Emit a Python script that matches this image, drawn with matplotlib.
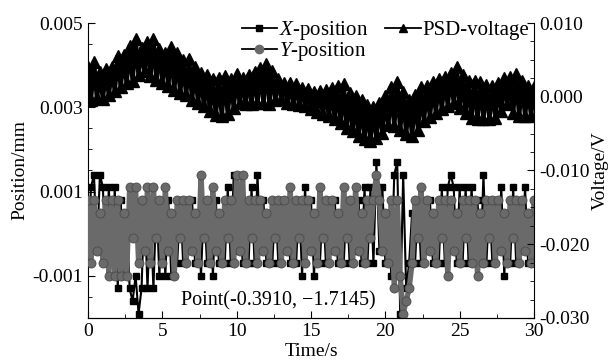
import numpy as np
import matplotlib.pyplot as plt
from matplotlib.lines import Line2D
from matplotlib.ticker import MultipleLocator, FormatStrFormatter

plt.rcParams['font.family'] = ['Liberation Serif', 'DejaVu Serif']
plt.rcParams['mathtext.fontset'] = 'custom'
plt.rcParams['mathtext.rm'] = 'Liberation Serif'
plt.rcParams['mathtext.it'] = 'Liberation Serif:italic'
plt.rcParams['axes.unicode_minus'] = False
plt.rcParams['font.size'] = 14

# samples every 0.2 s
time_s = np.arange(151) * 0.2

# X-position, units of 1e-4 mm (quantised levels)
x_pos_e4 = [
    -7, 11, 14, -4, 14, 11, -7, 11, -7, 11,
    -13, 8, -10, 5, -13, -16, -10, -19, -13, 8,
    -13, 5, -13, 8, -10, 8, -10, 8, -10, 5,
    -7, 8, -7, 8, -4, 8, -7, 5, -10, 8,
    -7, 8, -10, 8, -7, 5, -7, 11, -7, 14,
    -4, 8, -7, 5, -7, 11, -7, 14, -4, 8,
    -7, 5, -7, 8, -7, 8, -4, 8, -7, 5,
    -7, 8, -10, 11, -4, 8, -10, 5, -7, 8,
    -7, 8, -4, 8, -7, 5, -7, 8, -7, 8,
    -4, 8, -7, 11, -7, 11, -7, 17, -4, 11,
    -7, 5, -10, 14, 17, -19, 14, -13, -7, 5,
    -7, 8, -7, 8, -4, 8, -7, 5, -7, 11,
    -7, 11, 14, 11, -7, 11, -7, 11, -7, 11,
    -4, 8, -7, 14, -7, 8, -7, 8, -4, 11,
    -10, 5, -7, 11, -7, 8, -4, 11, -7, 5,
    -7,
]

# Y-position, units of 1e-4 mm
y_pos_e4 = [
    8, -7, 8, -4, 5, -7, 8, -10, 8, -10,
    8, -10, 5, -10, 11, -1, 11, -7, 8, -4,
    11, -7, 11, -1, 8, -7, 11, -4, 5, -10,
    8, -1, 8, -7, 8, -4, 5, -7, 14, -1,
    8, -7, 11, -4, 5, -7, 8, -1, 8, -7,
    14, -4, 14, -7, 8, -1, 8, -7, 8, -4,
    5, -7, 8, -1, 8, -7, 8, -4, 11, -7,
    8, -1, 8, -7, 8, -4, 5, -7, 11, -1,
    8, -7, 8, -4, 5, -7, 11, -1, 8, -7,
    11, -4, 5, -7, 8, -1, 8, 14, 8, -4,
    5, -7, 8, -13, 8, -10, -19, -16, -13, -7,
    8, -1, 11, -7, 8, -4, 5, -7, 8, -1,
    8, -10, 8, -4, 5, -7, 8, -1, 8, -7,
    8, -10, 5, -7, 8, -1, 8, -7, 8, -4,
    5, -7, 8, -1, 8, -7, 8, -4, 5, -7,
    8,
]

# PSD voltage, mV
psd_mv = [
    4.0, -0.4, 4.7, -0.2, 3.3, -0.3, 3.8, 0.2, 4.0, 0.8,
    5.5, 1.3, 5.6, 1.8, 6.9, 2.2, 7.8, 2.9, 6.6, 3.5,
    7.4, 2.8, 7.8, 2.3, 6.5, 1.9, 6.0, 1.4, 6.7, 0.9,
    5.9, 0.5, 5.0, 0.2, 5.1, -0.4, 4.0, -0.8, 3.2, -1.3,
    3.0, -1.9, 2.4, -2.5, 2.6, -2.6, 2.8, -2.3, 2.4, -1.5,
    3.1, -0.9, 2.5, -1.0, 2.9, -1.0, 3.3, -0.8, 3.9, -0.9,
    4.4, -1.0, 3.5, -0.4, 2.4, -0.3, 1.9, -0.8, 1.8, -1.0,
    1.7, -1.1, 1.2, -1.3, 1.1, -1.7, 0.6, -2.1, 0.8, -2.4,
    0.9, -2.6, 1.2, -3.0, 1.5, -3.5, 1.7, -4.2, 0.5, -4.7,
    0.1, -5.3, -0.4, -5.7, -1.1, -6.0, -1.4, -5.6, -0.8, -4.9,
    0.1, -3.8, 1.3, -4.0, 2.0, -4.5, 0.7, -5.0, -0.5, -5.3,
    0.3, -4.5, 1.3, -3.3, 1.5, -2.8, 2.0, -2.2, 2.4, -1.7,
    2.7, -1.2, 3.2, -0.8, 4.0, -1.5, 2.9, -2.2, 2.1, -2.9,
    2.2, -3.0, 2.0, -3.0, 1.6, -3.0, 1.4, -2.9, 1.8, -2.0,
    2.5, -1.0, 2.7, -2.2, 3.1, -2.6, 2.1, -2.6, 1.5, -2.6,
    1.3,
]

x_pos = np.array(x_pos_e4) * 1e-4
y_pos = np.array(y_pos_e4) * 1e-4
psd = np.array(psd_mv) / 1000

gray = '#6a6a6a'

fig = plt.figure(figsize=(6.1, 3.6), dpi=100)
ax = fig.add_axes([0.1443, 0.1167, 0.7311, 0.8194])

# dense sampling in the original makes solid bands, so thick lines here
ax.plot(time_s, x_pos, color='black', lw=1.5, marker='s', ms=5,
        mfc='black', mec='black', solid_joinstyle='round', zorder=2)
ax.plot(time_s, y_pos, color=gray, lw=3.8, marker='o', ms=6.5,
        mfc=gray, mec='#4a4a4a', mew=0.6, solid_joinstyle='round', zorder=3)

ax.set_xlim(0, 30)
ax.set_ylim(-0.002, 0.005)
ax.set_xticks([0, 5, 10, 15, 20, 25, 30])
ax.xaxis.set_minor_locator(MultipleLocator(2.5))
ax.set_yticks([-0.001, 0.001, 0.003, 0.005])
ax.yaxis.set_minor_locator(MultipleLocator(0.0005))
ax.yaxis.set_major_formatter(FormatStrFormatter('%.3f'))
ax.tick_params(which='both', direction='in', top=False, right=False)
ax.tick_params(which='major', length=5)
ax.tick_params(which='minor', length=3)
ax.spines['top'].set_visible(False)
ax.spines['right'].set_visible(False)
ax.set_xlabel('Time/s', labelpad=2)
ax.set_ylabel('Position/mm', labelpad=3)

ax2 = ax.twinx()
ax2.plot(time_s, psd, color='black', lw=3.2, marker='^', ms=8,
         mfc='black', mec='black', solid_joinstyle='round')
ax2.set_ylim(-0.030, 0.010)
ax2.set_yticks([-0.03, -0.02, -0.01, 0.0, 0.01])
ax2.yaxis.set_minor_locator(MultipleLocator(0.0025))
ax2.yaxis.set_major_formatter(FormatStrFormatter('%.3f'))
ax2.tick_params(which='both', direction='in')
ax2.tick_params(which='major', length=5)
ax2.tick_params(which='minor', length=3)
ax2.spines['top'].set_visible(False)
ax2.spines['left'].set_visible(False)
ax2.set_ylabel('Voltage/V', labelpad=2)

ax.text(12.8, -0.0016, 'Point(-0.3910, \u22121.7145)', ha='center',
        va='center', fontsize=14.5)

handles = [
    Line2D([], [], color='black', lw=1.3, marker='s', ms=5, mfc='black'),
    Line2D([], [], color='black', lw=1.3, marker='o', ms=6, mfc=gray, mec=gray),
    Line2D([], [], color='black', lw=1.3, marker='^', ms=6, mfc='black'),
]
labels = ['$\\it{X}$-position', '$\\it{Y}$-position', 'PSD-voltage']
ax2.legend(handles, labels, ncol=2, loc='upper right', fontsize=15,
           bbox_to_anchor=(0.99, 1.013), frameon=False, handlelength=1.7,
           handletextpad=0.1, columnspacing=0.8, labelspacing=-0.1,
           borderaxespad=0, borderpad=0)

fig.savefig('out.png', dpi=100)
